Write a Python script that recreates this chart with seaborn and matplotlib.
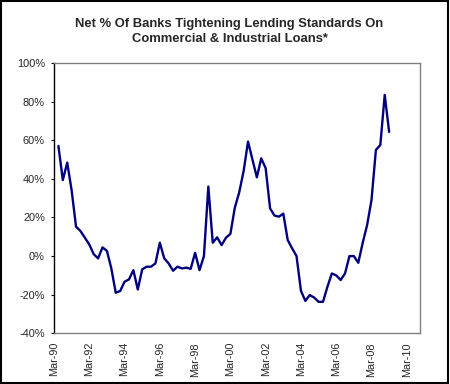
import matplotlib
matplotlib.use("Agg")
import matplotlib.pyplot as plt
import numpy as np
import pandas as pd
import seaborn as sns
from matplotlib.patches import Rectangle

# quarters counted from Mar-90 (0); survey data runs Jun-90 .. Mar-09
quarter = list(range(1, 77))
net_pct = [57, 39.4, 48.4, 34, 15.2, 13, 9.5, 6, 1, -1.2,
           4.5, 2.7, -6.4, -19, -18.1, -13.3, -12.1, -7.3, -17.3, -6.9,
           -5.5, -5.5, -3.8, 6.9, -1.2, -3.8, -7.6, -5.5, -6.4, -6,
           -6.6, 1.7, -7.3, 0, 36, 6.9, 9.7, 5.7, 9.5, 11.5,
           25, 33, 44, 59.3, 50, 40.8, 50.6, 45.5, 24.7, 21,
           20.4, 22, 8.3, 4, 0, -18, -23.2, -20.2, -21.5, -23.7,
           -23.7, -16, -9, -10, -12.4, -9, 0, 0, -3.5, 6.8,
           16, 29, 55, 57.5, 83.5, 64.3]
tick_pos = list(range(0, 81, 8))
tick_labels = ['Mar-90', 'Mar-92', 'Mar-94', 'Mar-96', 'Mar-98', 'Mar-00',
               'Mar-02', 'Mar-04', 'Mar-06', 'Mar-08', 'Mar-10']
y_ticks = [-40, -20, 0, 20, 40, 60, 80, 100]

df = pd.DataFrame({'quarter': quarter, 'net': net_pct})

sns.set_style("white")
plt.rcParams['font.family'] = ['Liberation Sans', 'DejaVu Sans']

fig = plt.figure(figsize=(4.5, 3.84), dpi=100)
ax = fig.add_axes([54 / 450, 1 - 333.3 / 384, 366 / 450, 270.3 / 384])

sns.lineplot(data=df, x='quarter', y='net', color='#000080', linewidth=1.7, ax=ax)

ax.set_xlim(0, 83)
ax.set_ylim(-40, 100)
ax.set_xticks(tick_pos)
ax.set_xticklabels(tick_labels, rotation=90, fontsize=7.8)
ax.set_yticks(y_ticks)
ax.set_yticklabels([f'{v}%' for v in y_ticks], fontsize=7.9)
ax.tick_params(axis='x', length=0, pad=6.3)
ax.tick_params(axis='y', length=2.2, width=0.8, direction='out', pad=4.3, left=True, color='black')
ax.set_xlabel('')
ax.set_ylabel('')

for side in ['top', 'right', 'bottom']:
    ax.spines[side].set_color('#808080')
    ax.spines[side].set_linewidth(1.0)
ax.spines['left'].set_color('black')
ax.spines['left'].set_linewidth(1.0)

fig.text(0.51, 1 - 31.7 / 384,
         'Net % Of Banks Tightening Lending Standards On\nCommercial & Industrial Loans*',
         ha='center', va='center', fontsize=9.4, fontweight='bold', linespacing=1.3)

# outer frame round the whole picture
fig.patches.append(Rectangle((0.002, 0.003), 0.994, 0.994, transform=fig.transFigure,
                             fill=False, edgecolor='black', linewidth=1.5))

fig.savefig('out.png', dpi=100)
